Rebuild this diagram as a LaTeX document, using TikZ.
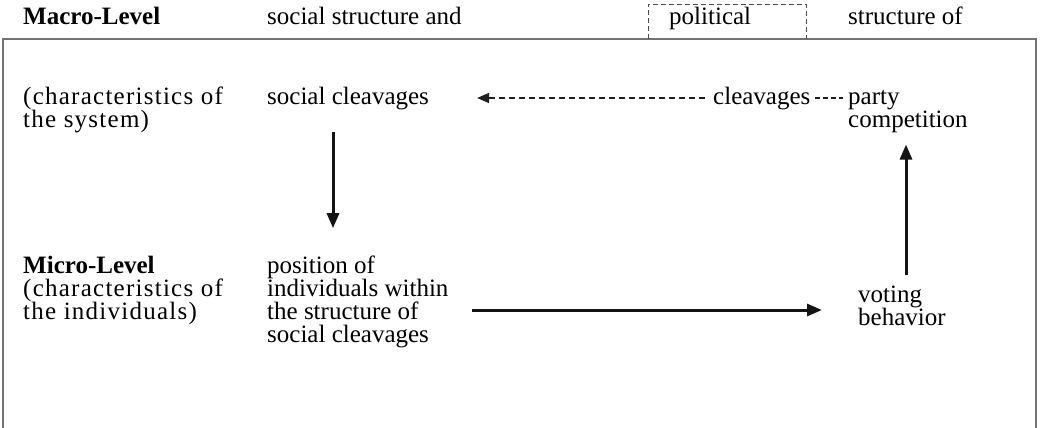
\documentclass[tikz,border=0pt]{standalone}
\usepackage{fontspec}
\setmainfont{Liberation Serif}
\usetikzlibrary{arrows.meta,calc}
\begin{document}
\begin{tikzpicture}[x=1pt,y=-1pt,
  txt/.style={anchor=base west,inner sep=0pt,font=\fontsize{25}{23}\selectfont,text=black},
  wide/.style={txt,font=\fontsize{25}{23}\selectfont\addfontfeature{LetterSpace=5}},
  bold/.style={txt,font=\fontsize{25}{23}\selectfont\bfseries},
  arr/.style={draw=black!92,line width=3pt,-{Triangle[length=15pt,width=12pt]}},
  darr/.style={draw=black!88,line width=1.5pt,dash pattern=on 6pt off 4pt,-{Triangle[length=12pt,width=10pt]}},
  dline/.style={draw=black!88,line width=1.5pt,dash pattern=on 5pt off 3pt},
  dbox/.style={draw=black!70,line width=0.9pt,dash pattern=on 5pt off 3pt},
  frame/.style={draw=black!55,line width=1.2pt}]
\useasboundingbox (0,0) rectangle (1041,428);
\fill[white] (0,0) rectangle (1041,428);
% frame
\draw[frame] (3,428) -- (3,39) -- (1036,39) -- (1036,428);
% top row
\node[bold] (mac) at (23,25) {Macro-Level};
\node[txt] (ssa) at (267,25) {social structure and};
\node[txt] (pol) at (669,25) {political};
\node[txt] (sto) at (848,25) {structure of};
\draw[dbox] (648,39) -- (648,4) -- (806,4) -- (806,39);
% macro rows
\node[wide] (ch1) at (23,104) {(characteristics of};
\node[wide] (ch2) at (23,127) {the system)};
\node[txt] (scl) at (267,104) {social cleavages};
\node[txt] (clv) at (713,104) {cleavages};
\node[txt] (par) at (848,104) {party};
\node[txt] (comp) at (848,127) {competition};
% micro rows
\node[bold] (mic) at (23,273) {Micro-Level};
\node[wide] (ci1) at (23,296) {(characteristics of};
\node[wide] (ci2) at (23,319) {the individuals)};
\node[txt] (pos) at (267,273) {position of};
\node[txt] (pos2) at (267,296) {individuals within};
\node[txt] (pos3) at (267,319) {the structure of};
\node[txt] (pos4) at (267,342) {social cleavages};
\node[txt] (vot) at (858,302) {voting};
\node[txt] (beh) at (858,325) {behavior};
% connectors
\draw[darr] ($(clv.base west)+(-8,-6)$) -- ($(scl.base east)+(48,-6)$);
\draw[dline] ($(clv.base east)+(4,-6)$) -- ($(par.base west)+(-5,-6)$);
\draw[arr] ($(scl.south west)+(66,22)$) -- ($(pos.north west)+(66,-27)$);
\draw[arr] ($(pos2.base east)+(23,14)$) -- ($(vot.base west)+(-36,8)$);
\draw[arr] ($(vot.north west)+(48,-10)$) -- ($(comp.south west)+(58,12)$);
\end{tikzpicture}
\end{document}
